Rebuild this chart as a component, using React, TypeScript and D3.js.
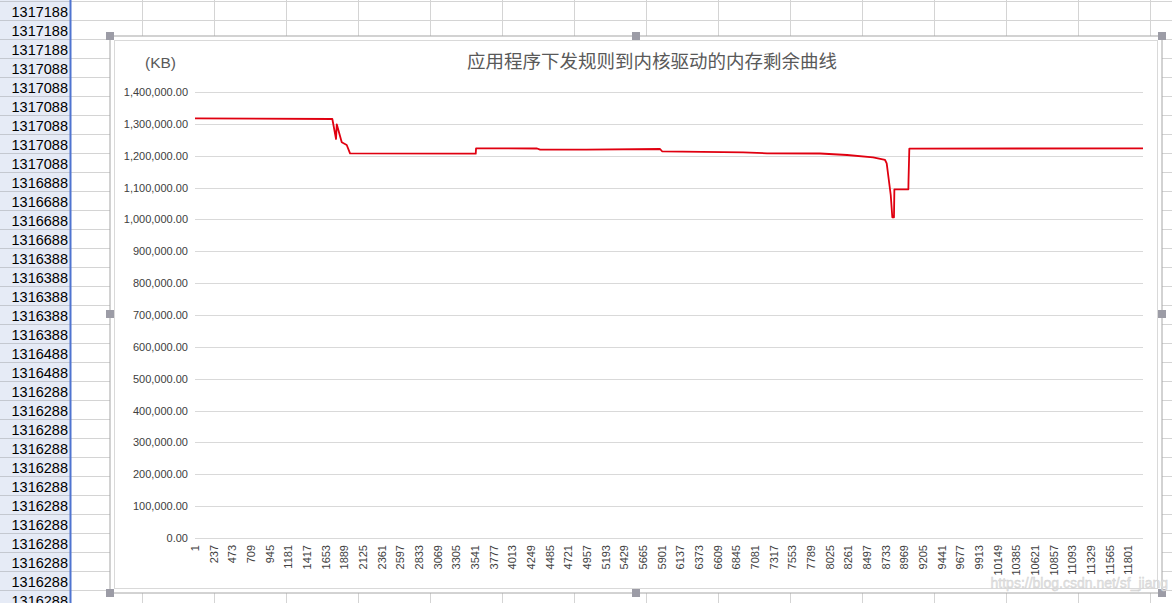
import React from "react";
import * as d3 from "d3";

// ---- data ----
const title = "应用程序下发规则到内核驱动的内存剩余曲线";
const unitLabel = "(KB)";
const categoryCount = 11985;
const tickStep = 236;
const yTicks = [0, 100000, 200000, 300000, 400000, 500000, 600000, 700000, 800000, 900000, 1000000, 1100000, 1200000, 1300000, 1400000];
// breakpoints of the memory curve: [sample index, KB]
const sampleIndex = [1, 1737, 1784, 1793, 1856, 1919, 1961, 3550, 3554, 4325, 4363, 4944, 5880, 5905, 6929, 7233, 7902, 8244, 8573, 8724, 8745, 8796, 8816, 8837, 8842, 9019, 9021, 9031, 11985];
const memoryKB = [1317188, 1315288, 1252500, 1298600, 1242100, 1233600, 1207600, 1206300, 1223300, 1222700, 1218900, 1218900, 1221100, 1213900, 1210700, 1207600, 1207000, 1202300, 1195000, 1186600, 1176200, 1076700, 1006700, 1006700, 1094600, 1094600, 1123800, 1222000, 1223300];
// spreadsheet column A values
const columnA = [
  "1317188", "1317188", "1317188", "1317088", "1317088", "1317088", "1317088", "1317088", "1317088",
  "1316888", "1316688", "1316688", "1316688", "1316388", "1316388", "1316388", "1316388", "1316388",
  "1316488", "1316488", "1316288", "1316288", "1316288", "1316288", "1316288", "1316288", "1316288",
  "1316288", "1316288", "1316288", "1316288", "1316288",
];
const watermark = "https://blog.csdn.net/sf_jiang";

const W = 1172;
const H = 603;

export default function App() {
  const x = d3.scaleLinear().domain([1, categoryCount]).range([195, 1143]);
  const y = d3.scaleLinear().domain([0, 1400000]).range([538, 92]);
  const pts = sampleIndex.map((s, i) => [s, memoryKB[i]] as [number, number]);
  const line = d3.line<[number, number]>().x((d) => x(d[0])).y((d) => y(d[1]));
  const xTicks = d3.range(1, categoryCount + 1, tickStep);
  const fmt = d3.format(",.2f");

  const rowH = 19;
  const rowTop = 1.5;
  const rowLines = d3.range(0, 33).map((i) => rowTop + i * rowH);
  const colLines = d3.range(0, 17).map((i) => 70 + i * 72);

  const handles: [number, number][] = [
    [110, 36], [636, 36], [1162, 36],
    [110, 314], [1162, 314],
    [110, 593], [636, 593], [1162, 593],
  ];

  return (
    <svg width={W} height={H} style={{ position: "absolute", left: 0, top: 0, display: "block" }} xmlns="http://www.w3.org/2000/svg">
      <rect x={0} y={0} width={W} height={H} fill="#ffffff" />
      {/* spreadsheet grid */}
      {rowLines.map((ry, i) => (
        <line key={"r" + i} x1={0} x2={W} y1={ry} y2={ry} stroke="#d4d4d4" strokeWidth={1} />
      ))}
      {colLines.map((cx, i) => (
        <line key={"c" + i} x1={cx + 0.5} x2={cx + 0.5} y1={0} y2={H} stroke="#d4d4d4" strokeWidth={1} />
      ))}
      {/* column A */}
      <rect x={0} y={0} width={70} height={H} fill="#e6ebf6" />
      {rowLines.map((ry, i) => (
        <line key={"ra" + i} x1={0} x2={70} y1={ry} y2={ry} stroke="#c4c8d0" strokeWidth={1} />
      ))}
      {columnA.map((v, i) => (
        <text key={"a" + i} x={68} y={rowTop + i * rowH + 15} textAnchor="end" fontFamily="Liberation Sans, Arial, sans-serif" fontSize={14.5} fill="#000000">
          {v}
        </text>
      ))}
      <line x1={70.5} x2={70.5} y1={0} y2={H} stroke="#4f74d0" strokeWidth={2} />

      {/* chart object */}
      <rect x={110} y={36} width={1052} height={557} fill="#ffffff" stroke="#a6a6a6" strokeWidth={1} />
      <rect x={114.5} y={40.5} width={1043} height={548} fill="#ffffff" stroke="#d9d9d9" strokeWidth={1} />
      {handles.map(([hx, hy], i) => (
        <rect key={"h" + i} x={hx - 4} y={hy - 4} width={8} height={8} fill="#9c9ca6" />
      ))}

      {/* title and unit */}
      <text x={652} y={68} textAnchor="middle" fontFamily="Noto Sans CJK SC, sans-serif" fontSize={18.5} fill="#595959">
        {title}
      </text>
      <text x={145} y={68} fontFamily="Liberation Sans, Arial, sans-serif" fontSize={15.5} fill="#595959">
        {unitLabel}
      </text>

      {/* gridlines and y labels */}
      {yTicks.map((t) => (
        <g key={"y" + t}>
          <line x1={195} x2={1143} y1={Math.round(y(t)) + 0.5} y2={Math.round(y(t)) + 0.5} stroke="#d9d9d9" strokeWidth={1} />
          <text x={188} y={y(t) + 4} textAnchor="end" fontFamily="Liberation Sans, Arial, sans-serif" fontSize={11} fill="#404040">
            {fmt(t)}
          </text>
        </g>
      ))}

      {/* x labels */}
      {xTicks.map((t) => (
        <text
          key={"x" + t}
          transform={`translate(${x(t) + 4},545) rotate(-90)`}
          textAnchor="end"
          fontFamily="Liberation Sans, Arial, sans-serif"
          fontSize={11}
          fill="#404040"
        >
          {t}
        </text>
      ))}

      {/* series */}
      <path d={line(pts) || ""} fill="none" stroke="#e00010" strokeWidth={1.8} strokeLinejoin="round" />

      {/* watermark */}
      <text x={1168} y={588} textAnchor="end" fontFamily="Liberation Sans, Arial, sans-serif" fontSize={14} fill="#e4e4e4" stroke="#d0d0d0" strokeWidth={0.4}>
        {watermark}
      </text>
    </svg>
  );
}
